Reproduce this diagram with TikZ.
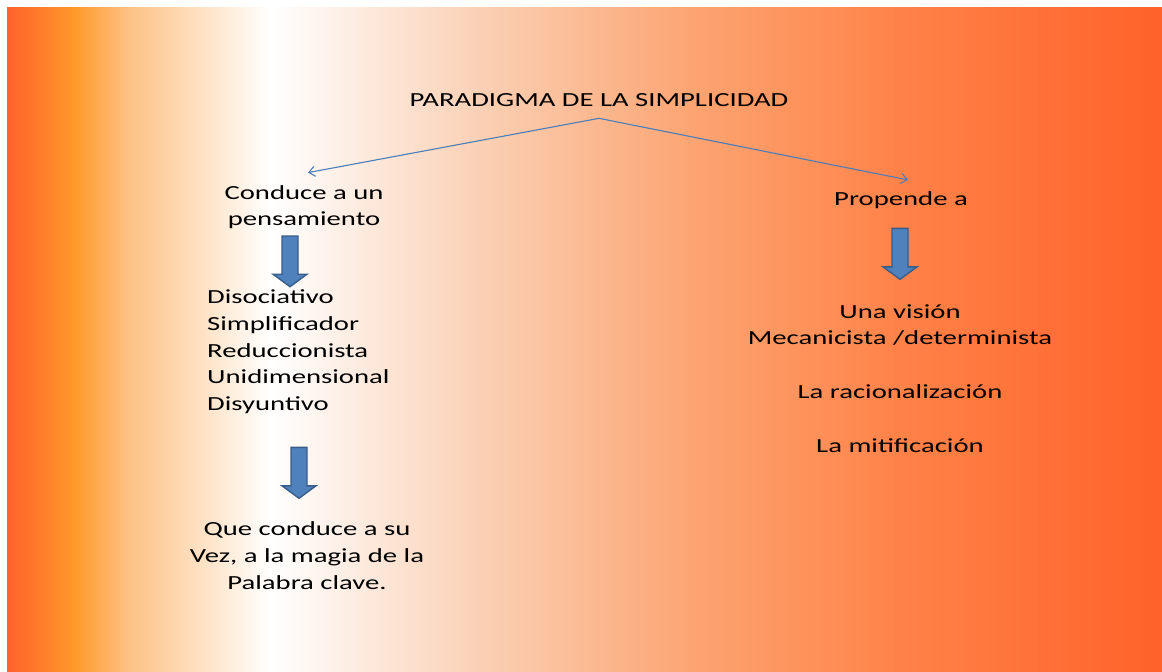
\documentclass[tikz,border=0pt]{standalone}
\usepackage{fontspec}
\setmainfont{Carlito}[FakeStretch=1.435]
\usetikzlibrary{arrows.meta}
\definecolor{linkblue}{RGB}{74,126,187}
\definecolor{blockfill}{RGB}{79,129,189}
\definecolor{blockline}{RGB}{56,93,138}
\definecolor{edgeorange}{RGB}{255,98,42}
\definecolor{amber}{RGB}{255,153,42}
\definecolor{peach}{RGB}{253,194,135}
\definecolor{paleorange}{RGB}{250,208,180}
\definecolor{salmon}{RGB}{252,163,112}
\definecolor{deeporange}{RGB}{255,130,72}
\pgfdeclarehorizontalshading{simplebg}{100bp}{color(0bp)=(edgeorange); color(25bp)=(edgeorange); color(27.94bp)=(amber); color(30.3bp)=(peach); color(36.4bp)=(white); color(45.5bp)=(paleorange); color(55bp)=(salmon); color(63.7bp)=(deeporange); color(75bp)=(edgeorange); color(100bp)=(edgeorange)}
\begin{document}
\begin{tikzpicture}[x=1pt,y=-1pt]
\newcommand{\bigdown}[3]{\draw[blockarrow] (#1-8,#2) -- (#1+8,#2) -- (#1+8,#3-12.5) -- (#1+17,#3-12.5) -- (#1,#3) -- (#1-17,#3-12.5) -- (#1-8,#3-12.5) -- cycle;}
\tikzstyle{txt}=[inner sep=0pt,align=center,anchor=base,font=\fontsize{20}{26.8}\selectfont]
\tikzstyle{link}=[linkblue,line width=1.1pt,-{Straight Barb[length=6pt,width=10pt]}]
\tikzstyle{blockarrow}=[fill=blockfill,draw=blockline,line width=1.4pt,line join=miter]
\useasboundingbox (0,0) rectangle (1162,672);
\shade[shading=simplebg] (7,7) rectangle (1162,672);
% titulo
\node[txt] (title) at (599,106.7) {PARADIGMA DE LA SIMPLICIDAD};
\coordinate (apex) at ([yshift=-11.3pt]title.south);
% rama izquierda (base = ultima linea)
\node[txt,font=\fontsize{20}{26}\selectfont] (conduce) at (304,225.3) {Conduce a un\\pensamiento};
\node[txt,align=left,anchor=base west] (tipos) at (207,410.7) {Disociativo\\Simplificador\\Reduccionista\\Unidimensional\\Disyuntivo};
\node[txt] (magia) at (307,589.3) {Que conduce a su\\Vez, a la magia de la\\Palabra clave.};
% rama derecha
\node[txt] (propende) at (901,205) {Propende a};
\node[txt] (vision) at (900,452) {Una visión\\Mecanicista /determinista\\[26.8pt]La racionalización\\[26.8pt]La mitificación};
\draw[link] (apex) -- ([xshift=4pt,yshift=12.6pt]conduce.north);
\draw[link] (apex) -- ([xshift=7pt,yshift=11pt]propende.north);
\bigdown{290}{236}{286.7}
\bigdown{299}{447.3}{498.3}
\bigdown{900}{228.3}{279.3}
\end{tikzpicture}
\end{document}
